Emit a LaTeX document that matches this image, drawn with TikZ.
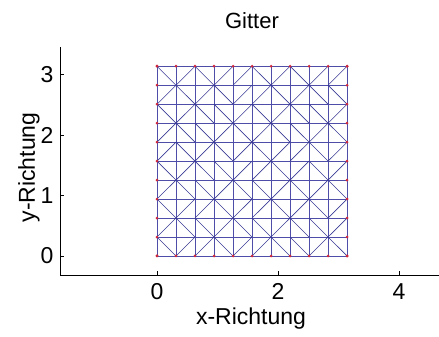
\documentclass[tikz,border=0pt]{standalone}
\usepackage{fontspec}
\setmainfont{Liberation Sans}
\usetikzlibrary{positioning}
\definecolor{meshblue}{RGB}{78,78,168}
\definecolor{diagblue}{RGB}{60,60,150}
\definecolor{randrot}{RGB}{205,40,60}

\begin{document}
\begin{tikzpicture}[
  x=60.5pt, y=60.4pt,
  gitterlinie/.style={draw=meshblue, line width=0.9pt},
  diaglinie/.style={draw=diagblue, line width=0.6pt},
  achse/.style={draw=black, line width=0.9pt},
  beschriftung/.style={font=\fontsize{23}{26}\selectfont, inner sep=0pt},
  randpunkt/.style={circle, fill=randrot, inner sep=0pt, minimum size=3pt}
]
\useasboundingbox (-2.595,-1.325) rectangle (4.661,4.238);

% Gitterpunkte, h = pi/10
\foreach \i in {0,...,10}
  \foreach \j in {0,...,10}
    \coordinate (g-\i-\j) at ({\i*pi/10},{\j*pi/10});

% Achsen
\coordinate (ursprung) at (-1.603,-0.315);
\coordinate (xende) at (4.661,-0.315);
\coordinate (yende) at (-1.603,3.46);
\draw[achse] (yende) -- (ursprung) -- (xende);
\foreach \t in {0,2,4} {
  \coordinate (xt-\t) at (\t,-0.315);
  \draw[achse] (xt-\t) -- ++(0,0.07);
  \node[beschriftung] (xl-\t) at (\t,-0.588) {\t};
}
\foreach \t in {0,1,2,3} {
  \coordinate (yt-\t) at (-1.603,\t);
  \draw[achse] (yt-\t) -- ++(0.07,0);
  \node[beschriftung] (yl-\t) at (-1.818,\t) {\t};
}
\node[beschriftung, anchor=base] (xname) at (1.554,-1.142) {x-Richtung};
\node[beschriftung, rotate=90] (yname) at (-2.116,1.465) {y-Richtung};
\node[beschriftung, font=\fontsize{22}{25}\selectfont, anchor=base] (titel) at (1.570,3.767) {Gitter};

% waagrechte und senkrechte Kanten
\foreach \k in {0,...,10} {
  \draw[gitterlinie] (g-\k-0) -- (g-\k-10);
  \draw[gitterlinie] (g-0-\k) -- (g-10-\k);
}

% Diagonalen je Zeile: 0 = /, 1 = \
\foreach \j/\reihe in {
    0/{1,0,0,1,0,0,1,1,0,1},
    1/{0,1,1,0,1,1,0,1,1,0},
    2/{1,0,0,1,0,0,1,0,1,0},
    3/{0,1,1,0,1,1,0,1,0,1},
    4/{1,0,1,1,0,0,1,0,1,0},
    5/{0,1,0,1,0,1,0,0,1,0},
    6/{0,1,1,0,1,0,1,1,0,1},
    7/{1,0,1,1,0,1,0,1,1,0},
    8/{0,1,0,1,0,0,1,0,1,1},
    9/{1,0,1,0,0,1,0,1,0,0}}
  \foreach \d [count=\i from 0] in \reihe {
    \pgfmathtruncatemacro{\ia}{\i+1}
    \pgfmathtruncatemacro{\ja}{\j+\d}
    \pgfmathtruncatemacro{\jb}{\j+1-\d}
    \draw[diaglinie] (g-\i-\ja) -- (g-\ia-\jb);
  }

% Randknoten
\foreach \k in {0,...,10} {
  \node[randpunkt] (ru-\k) at (g-\k-0) {};
  \node[randpunkt] (ro-\k) at (g-\k-10) {};
  \node[randpunkt] (rl-\k) at (g-0-\k) {};
  \node[randpunkt] (rr-\k) at (g-10-\k) {};
}
\end{tikzpicture}
\end{document}
